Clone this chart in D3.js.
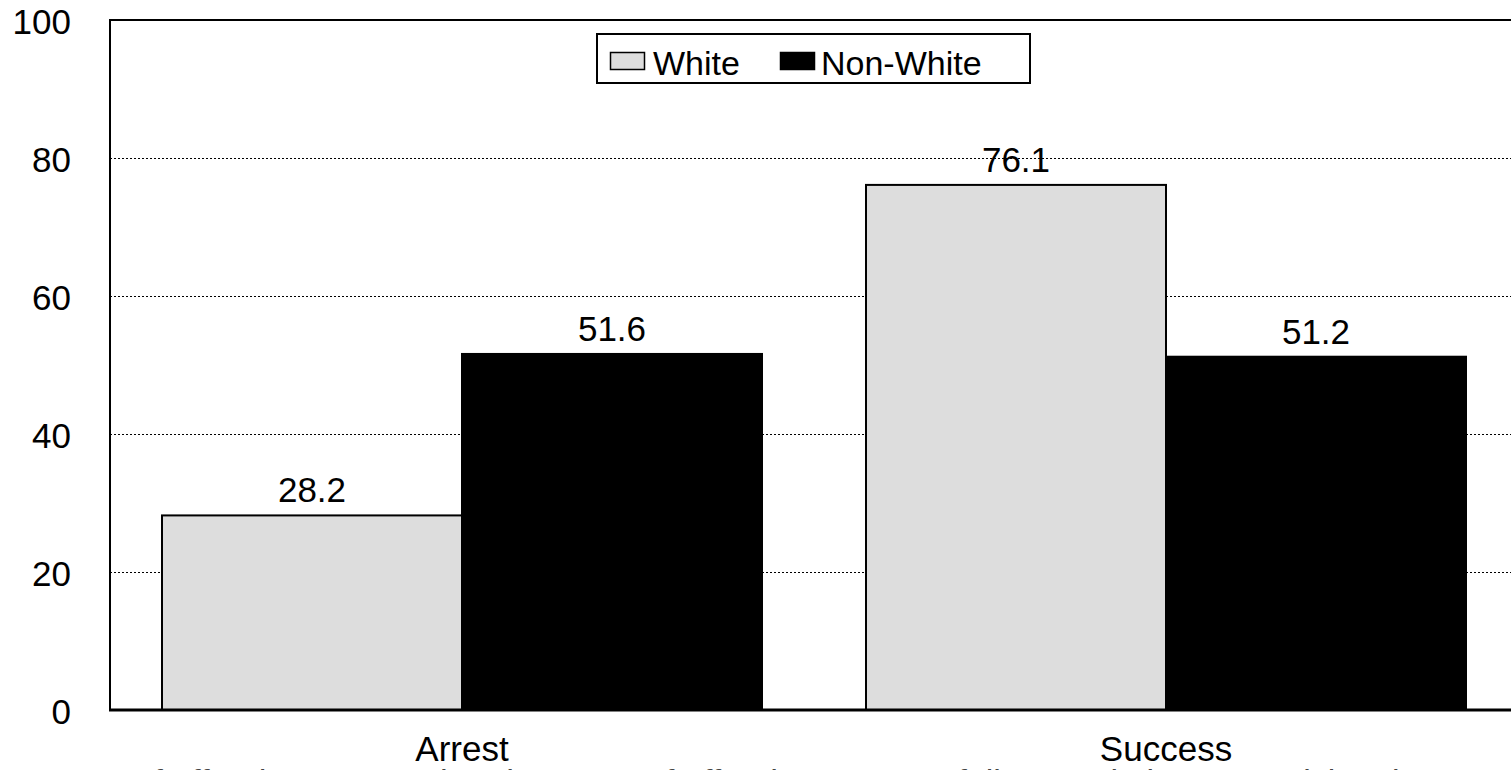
<!DOCTYPE html>
<html>
<head>
<meta charset="utf-8">
<script src="https://cdn.jsdelivr.net/npm/d3@7"></script>
<style>
  html, body { margin: 0; padding: 0; background: #fff; overflow: hidden; }
  svg { display: block; font-family: "Liberation Sans", Arial, sans-serif; }
</style>
</head>
<body>
<svg id="chart" width="1511" height="770"></svg>
<script>
// Outcome categories and the two groups compared
const categories = ["Arrest", "Success"];
const seriesNames = ["White", "Non-White"];
const whiteValues = [28.2, 76.1];
const nonWhiteValues = [51.6, 51.2];
const yTicks = [0, 20, 40, 60, 80, 100];
const noteText = "Percent of offenders arrested and percent of offenders successfully completing supervision, by race";

const seriesColors = { "White": "#dddddd", "Non-White": "#000000" };
const FONT = "Liberation Sans, Arial, sans-serif";

const svg = d3.select("#chart");
const margin = { left: 110, top: 20, right: -7, bottom: 60 };
const W = 1511, H = 770;
const plotRight = W - margin.right;
const plotBottom = H - margin.bottom;

const x = d3.scaleBand()
  .domain(categories)
  .range([margin.left, plotRight])
  .paddingInner(104 / 704)
  .paddingOuter(52 / 704);

const xs = d3.scaleBand()
  .domain(seriesNames)
  .range([0, x.bandwidth()]);

const y = d3.scaleLinear().domain([0, 100]).range([plotBottom, margin.top]);

// dotted gridlines
svg.append("g")
  .selectAll("line")
  .data(yTicks.filter(t => t > 0 && t < 100))
  .join("line")
  .attr("x1", margin.left).attr("x2", plotRight)
  .attr("y1", d => y(d) + 0.5).attr("y2", d => y(d) + 0.5)
  .attr("stroke", "#000")
  .attr("stroke-width", 1)
  .attr("stroke-dasharray", "2,2");

// y axis labels
const yAxis = d3.axisLeft(y).tickValues(yTicks).tickSize(0).tickPadding(39);
svg.append("g")
  .attr("transform", `translate(${margin.left},0)`)
  .call(yAxis)
  .call(g => g.select(".domain").remove())
  .call(g => g.selectAll("text")
    .attr("font-size", 35)
    .attr("font-family", FONT)
    .attr("dy", 13)
    .attr("fill", "#000"));

// bars
const rows = categories.map((c, i) => ({
  category: c,
  values: [
    { name: "White", value: whiteValues[i] },
    { name: "Non-White", value: nonWhiteValues[i] }
  ]
}));

const groups = svg.append("g")
  .selectAll("g")
  .data(rows)
  .join("g")
  .attr("transform", d => `translate(${x(d.category)},0)`);

groups.selectAll("rect")
  .data(d => d.values)
  .join("rect")
  .attr("x", d => xs(d.name))
  .attr("width", xs.bandwidth())
  .attr("y", d => y(d.value))
  .attr("height", d => y(0) - y(d.value))
  .attr("fill", d => seriesColors[d.name])
  .attr("stroke", "#000")
  .attr("stroke-width", 2);

groups.selectAll("text.val")
  .data(d => d.values)
  .join("text")
  .attr("class", "val")
  .attr("x", d => xs(d.name) + xs.bandwidth() / 2)
  .attr("y", d => y(d.value) - 13)
  .attr("text-anchor", "middle")
  .attr("font-size", 35)
  .attr("fill", "#000")
  .text(d => d.value.toFixed(1));

// frame: left, top and bottom borders
svg.append("path")
  .attr("d", `M${margin.left},${plotBottom} V${margin.top} H${plotRight}`)
  .attr("fill", "none").attr("stroke", "#000").attr("stroke-width", 2);
svg.append("line")
  .attr("x1", margin.left - 1).attr("x2", plotRight)
  .attr("y1", plotBottom).attr("y2", plotBottom)
  .attr("stroke", "#000").attr("stroke-width", 3);

// category labels
const xAxis = d3.axisBottom(x).tickSize(0).tickPadding(0);
svg.append("g")
  .attr("transform", `translate(0,${plotBottom})`)
  .call(xAxis)
  .call(g => g.select(".domain").remove())
  .call(g => g.selectAll("text")
    .attr("font-size", 35)
    .attr("font-family", FONT)
    .attr("dy", null)
    .attr("y", 51)
    .attr("fill", "#000"));

// note line below the chart (runs past the bottom edge)
svg.append("text")
  .attr("x", 8)
  .attr("y", 793)
  .attr("font-size", 34)
  .attr("fill", "#444")
  .text(noteText);

// legend
const legend = svg.append("g");
legend.append("rect")
  .attr("x", 597).attr("y", 34)
  .attr("width", 433).attr("height", 49)
  .attr("fill", "#fff").attr("stroke", "#000").attr("stroke-width", 2);

const legendItems = legend.selectAll("g.item")
  .data(seriesNames)
  .join("g")
  .attr("class", "item")
  .attr("transform", (d, i) => `translate(${[610, 780][i]},0)`);

legendItems.append("rect")
  .attr("x", 0.5).attr("y", 52.5)
  .attr("width", 34).attr("height", 17)
  .attr("fill", d => seriesColors[d])
  .attr("stroke", "#000").attr("stroke-width", 1.5);

legendItems.append("text")
  .attr("x", (d, i) => [43, 41][i]).attr("y", 75)
  .attr("font-size", 34)
  .attr("fill", "#000")
  .text(d => d);
</script>
</body>
</html>
